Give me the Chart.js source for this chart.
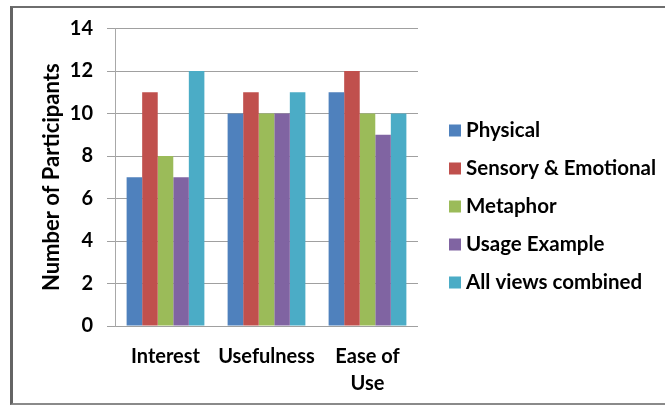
<!DOCTYPE html>
<html>
<head>
<meta charset="utf-8">
<script src="https://cdn.jsdelivr.net/npm/chart.js@4/dist/chart.umd.min.js"></script>
<style>
  html, body { margin: 0; padding: 0; background: #fff; }
  #wrap { position: relative; width: 665px; height: 406px; overflow: hidden; }
  #frame {
    position: absolute; left: 10px; top: 6px; width: 700px; height: 399px;
    box-sizing: border-box;
    border-left: 3px solid #646464;
    border-top: 2px solid #6e6e6e;
    border-bottom: 2px solid #8a8a8a;
  }
  canvas { position: absolute; left: 0; top: 0; }
</style>
</head>
<body>
<div id="wrap">
  <div id="frame"></div>
  <canvas id="chart" width="665" height="406"></canvas>
</div>
<script>
// Participants' ratings per criterion, one array per view type
const categories = ['Interest', 'Usefulness', ['Ease of', 'Use']];
const physical   = [7, 10, 11];
const sensory    = [11, 11, 12];
const metaphor   = [8, 10, 10];
const usage      = [7, 10, 9];
const combined   = [12, 11, 10];
const yTickValues = [0, 2, 4, 6, 8, 10, 12, 14];

const FONT = 'Lato, "Open Sans", sans-serif';

// Legend drawn to the right of the plot as a single column
const sideLegend = {
  id: 'sideLegend',
  afterDraw(chart, args, opts) {
    const ctx = chart.ctx;
    ctx.save();
    ctx.font = `bold ${opts.fontSize}px ${FONT}`;
    ctx.textBaseline = 'middle';
    ctx.textAlign = 'left';
    chart.data.datasets.forEach((ds, i) => {
      const y = opts.top + i * opts.step;
      ctx.fillStyle = ds.backgroundColor;
      ctx.fillRect(opts.boxX, y - opts.box / 2, opts.box, opts.box);
      ctx.fillStyle = '#000';
      ctx.fillText(ds.label, opts.textX, y);
    });
    ctx.restore();
  }
};

new Chart(document.getElementById('chart'), {
  type: 'bar',
  data: {
    labels: categories,
    datasets: [
      { label: 'Physical',            data: physical, backgroundColor: '#4F81BD' },
      { label: 'Sensory & Emotional', data: sensory,  backgroundColor: '#C0504D' },
      { label: 'Metaphor',            data: metaphor, backgroundColor: '#9BBB59' },
      { label: 'Usage Example',       data: usage,    backgroundColor: '#8064A2' },
      { label: 'All views combined',  data: combined, backgroundColor: '#4BACC6' }
    ]
  },
  options: {
    responsive: false,
    animation: false,
    devicePixelRatio: 1,
    datasets: { bar: { categoryPercentage: 0.77, barPercentage: 1.0 } },
    layout: { padding: { left: 10, top: 28.5, right: 247, bottom: 0 } },
    plugins: {
      legend: { display: false },
      tooltip: { enabled: false },
      sideLegend: { boxX: 449, textX: 466, top: 130.5, step: 38, box: 12, fontSize: 20.5 }
    },
    scales: {
      x: {
        afterFit(scale) { scale.height = 80; },
        grid: { display: false },
        border: { display: false },
        ticks: {
          color: '#000',
          font: { family: FONT, size: 20, weight: 'bold', lineHeight: 1.35 },
          padding: 9,
          maxRotation: 0,
          autoSkip: false
        }
      },
      y: {
        min: 0,
        max: 14,
        afterFit(scale) { scale.width = 105; },
        afterBuildTicks(scale) { scale.ticks = yTickValues.map(v => ({ value: v })); },
        grid: { color: '#a0a0a0', tickLength: 8, lineWidth: 1 },
        border: { color: '#a8a8a8' },
        ticks: {
          color: '#000',
          font: { family: FONT, size: 20, weight: 'bold' },
          padding: 14
        },
        title: {
          display: true,
          text: 'Number of Participants',
          color: '#000',
          font: { family: FONT, size: 22, weight: 'bold' },
          padding: { top: 29, bottom: 0 }
        }
      }
    }
  },
  plugins: [sideLegend]
});
</script>
</body>
</html>
